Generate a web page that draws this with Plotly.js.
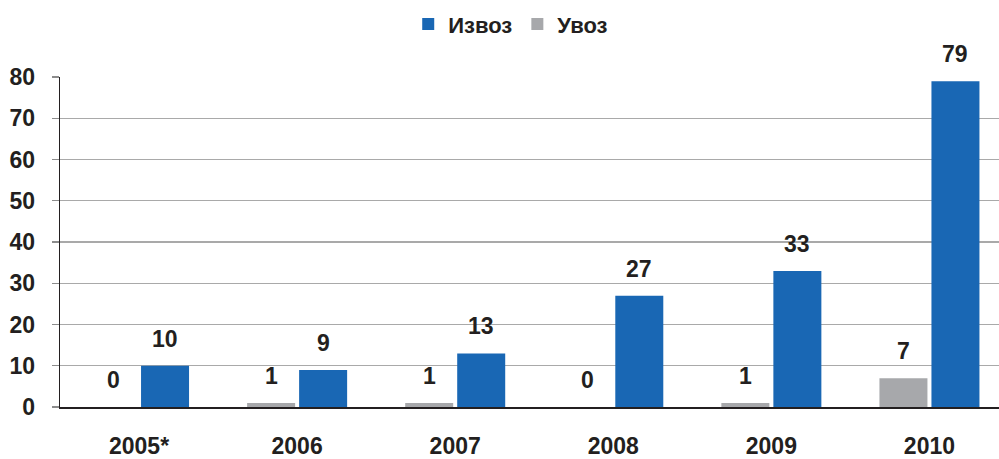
<!DOCTYPE html>
<html>
<head>
<meta charset="utf-8">
<script src="https://cdn.plot.ly/plotly-3.0.1.min.js"></script>
<style>html,body{margin:0;padding:0;background:#fff;}#chart{width:999px;height:459px;}</style>
</head>
<body>
<div id="chart"></div>
<script>
const years = ["2005*", "2006", "2007", "2008", "2009", "2010"];
const izvoz = [10, 9, 13, 27, 33, 79];
const uvoz = [0, 1, 1, 0, 1, 7];
const seriesNames = ["Извоз", "Увоз"];

const FONT = '"Liberation Sans", Arial, sans-serif';
const BLUE = '#1967b4';
const GRAY = '#a7a8ab';
const TXT = '#231f20';
const FS = 23;

const traces = [
  {type: 'bar', name: seriesNames[1], x: years, y: uvoz, marker: {color: GRAY}, hoverinfo: 'none'},
  {type: 'bar', name: seriesNames[0], x: years, y: izvoz, marker: {color: BLUE}, hoverinfo: 'none'}
];

const annotations = [];
years.forEach((yr, i) => {
  annotations.push({x: i, y: uvoz[i], xref: 'x', yref: 'y', text: String(uvoz[i]), showarrow: false,
    xshift: -26, yshift: 12, yanchor: 'bottom', font: {family: FONT, size: FS, color: TXT, weight: 'bold'}});
  annotations.push({x: i, y: izvoz[i], xref: 'x', yref: 'y', text: String(izvoz[i]), showarrow: false,
    xshift: 26, yshift: 12, yanchor: 'bottom', font: {family: FONT, size: FS, color: TXT, weight: 'bold'}});
});

const layout = {
  width: 999, height: 459,
  margin: {l: 60, r: 0, t: 77, b: 52, pad: 0},
  paper_bgcolor: '#fff', plot_bgcolor: '#fff',
  barmode: 'group', bargap: 0.342, bargroupgap: 0.077,
  font: {family: FONT, size: FS, color: TXT, weight: 'bold'},
  showlegend: true,
  legend: {orientation: 'h', x: 0.48, xanchor: 'center', y: 1.16, yanchor: 'middle',
    traceorder: 'reversed', font: {family: FONT, size: 22, color: TXT, weight: 'bold'}, itemwidth: 30},
  xaxis: {type: 'category', range: [-0.5, 5.44], showgrid: false, showline: true, linecolor: '#231f20', linewidth: 2,
    ticks: '', ticklabelstandoff: 17, tickfont: {family: FONT, size: FS, color: TXT, weight: 'bold'}, fixedrange: true},
  yaxis: {range: [0, 80], tickvals: [0, 10, 20, 30, 40, 50, 60, 70, 80], showgrid: true, gridcolor: '#a9a9a9', gridwidth: 1.3,
    showline: true, linecolor: '#231f20', linewidth: 1.3, ticks: 'outside', ticklen: 7, tickcolor: '#8c8c8c', tickwidth: 1.3,
    ticklabelstandoff: 12, zeroline: false, tickfont: {family: FONT, size: FS, color: TXT, weight: 'bold'}, fixedrange: true},
  annotations: annotations
};

Plotly.newPlot('chart', traces, layout, {displayModeBar: false, staticPlot: true});
</script>
</body>
</html>
